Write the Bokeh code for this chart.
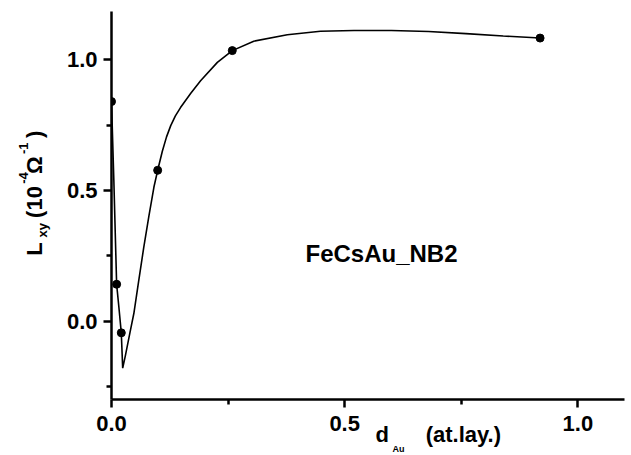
import numpy as np
from bokeh.plotting import figure
from bokeh.models import FixedTicker, Label, ColumnDataSource
from bokeh.embed import file_html
from bokeh.resources import INLINE

# ---------------- data ----------------
pts_x = [0.0, 0.011, 0.021, 0.099, 0.259, 0.919]
pts_y = [0.84, 0.141, -0.045, 0.577, 1.035, 1.083]

curve_x = [0.0, 0.005, 0.011, 0.016, 0.021, 0.024, 0.030, 0.040, 0.048, 0.058,
           0.069, 0.080, 0.091, 0.099, 0.109, 0.118, 0.127, 0.137, 0.148, 0.170,
           0.191, 0.227, 0.259, 0.305, 0.377, 0.448, 0.520, 0.600, 0.680, 0.760,
           0.840, 0.919]
curve_y = [0.84, 0.54, 0.141, 0.05, -0.045, -0.18, -0.13, -0.04, 0.03, 0.15,
           0.28, 0.40, 0.513, 0.577, 0.650, 0.705, 0.748, 0.785, 0.817, 0.872,
           0.920, 0.990, 1.035, 1.071, 1.096, 1.109, 1.112, 1.112, 1.108, 1.100,
           1.091, 1.083]

x_ticks = [0.0, 0.5, 1.0]
x_tick_labels = ["0.0", "0.5", "1.0"]
x_minor = [0.25, 0.75]
y_ticks = [0.0, 0.5, 1.0]
y_tick_labels = ["0.0", "0.5", "1.0"]
y_minor = [-0.25, 0.25, 0.75]

sample_name = "FeCsAu_NB2"
x_title = ["d", "Au", "(at.lay.)"]                        # d_Au (at.lay.)
y_title = ["L", "xy", "(10", "-4", "\u03a9", "-1", ")"]   # L_xy (10^-4 Ω^-1)

# ---------------- figure ----------------
FONT = "Liberation Sans"
NB = "\u00a0"
Y_TOP = 1.2 - 4 / 261.0   # frame starts 4px lower (room for the tiny label slot)
p = figure(width=631, height=455, x_range=(0, 1.1), y_range=(-0.3, Y_TOP),
           output_backend="svg", toolbar_location=None,
           min_border_left=111, min_border_right=7, min_border_top=11,
           min_border_bottom=56)
p.outline_line_color = None
p.grid.visible = False
p.background_fill_color = "white"
p.border_fill_color = "white"

src_c = ColumnDataSource(dict(x=curve_x, y=curve_y))
src_p = ColumnDataSource(dict(x=pts_x, y=pts_y))
p.line("x", "y", source=src_c, line_color="black", line_width=1.6)
p.scatter("x", "y", source=src_p, size=8, color="black")

p.xaxis.ticker = FixedTicker(ticks=x_ticks, minor_ticks=x_minor)
p.yaxis.ticker = FixedTicker(ticks=y_ticks, minor_ticks=y_minor)
p.xaxis.major_label_overrides = {t: l for t, l in zip(x_ticks, x_tick_labels)}
p.yaxis.major_label_overrides = {t: l for t, l in zip(y_ticks, y_tick_labels)}

for ax in (p.xaxis[0], p.yaxis[0]):
    ax.axis_line_color = "black"
    ax.axis_line_width = 2.5
    ax.major_tick_line_color = "black"
    ax.major_tick_line_width = 2.5
    ax.minor_tick_line_color = "black"
    ax.minor_tick_line_width = 2.5
    ax.major_tick_in = 0
    ax.major_tick_out = 8
    ax.minor_tick_in = 0
    ax.minor_tick_out = 5
    ax.major_label_text_font = FONT
    ax.major_label_text_font_style = "bold"
    ax.major_label_text_font_size = "22px"
    ax.major_label_text_color = "black"
p.xaxis.major_label_standoff = 8
p.yaxis.major_label_standoff = 6

# x title: "d" and "(at.lay.)" as the axis label (shifted right with no-break spaces)
xa = p.xaxis[0]
xa.axis_label = NB * 23 + x_title[0] + NB * 6 + x_title[2]
xa.axis_label_text_font = FONT
xa.axis_label_text_font_style = "bold"
xa.axis_label_text_font_size = "22px"
xa.axis_label_text_color = "black"
xa.axis_label_standoff = -12


def lab(text, x, y, size, angle=0.0, place="center"):
    lbl = Label(x=x, y=y, text=text, text_font=FONT, text_font_style="bold",
                text_font_size=size, text_color="black", angle=angle,
                text_align="left", text_baseline="middle")
    p.add_layout(lbl, place)


# sample name (inside the frame)
lab(sample_name, 0.416, 0.260, "24px")

# subscript of the x title (its layout slot is the thin top border)
lab(x_title[1], 0.6025, -0.489, "9px", place="above")

# y title (rotated), pieces in the left panel
R = np.pi / 2
lab(y_title[0] + NB * 4 + y_title[2] + NB * 2 + y_title[4] + NB * 3 + y_title[6],
    -0.1649, 0.2498, "22px", angle=R, place="left")
lab(y_title[1], -0.1490, 0.320, "13px", angle=R, place="left")
lab(y_title[3] + NB * 5 + y_title[5], -0.1887, 0.5257, "13px", angle=R, place="left")

open("out.html", "w").write(file_html(p, INLINE))
